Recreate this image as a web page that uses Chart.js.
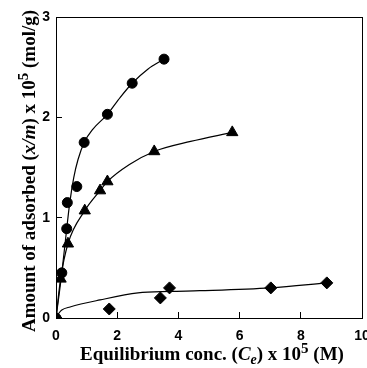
<!DOCTYPE html>
<html>
<head>
<meta charset="utf-8">
<script src="https://cdn.jsdelivr.net/npm/chart.js@4/dist/chart.umd.min.js"></script>
<style>
  html, body { margin: 0; padding: 0; background: #fff; }
  canvas { display: block; }
</style>
</head>
<body>
<canvas id="isotherm" width="367" height="368"></canvas>
<script>
// measured points (x = Ce x 10^5 M, y = x/m x 10^5 mol/g)
const circleX = [0, 0.19, 0.35, 0.37, 0.68, 0.92, 1.68, 2.49, 3.53];
const circleY = [0, 0.45, 0.89, 1.15, 1.31, 1.75, 2.03, 2.34, 2.58];
const triX = [0, 0.15, 0.39, 0.94, 1.44, 1.68, 3.21, 5.76];
const triY = [0, 0.39, 0.74, 1.07, 1.27, 1.36, 1.66, 1.85];
const diaX = [0, 1.74, 3.41, 3.71, 7.02, 8.85];
const diaY = [0, 0.09, 0.20, 0.30, 0.30, 0.35];

// fitted curves
const circleFitX = [0, 0.19, 0.35, 0.45, 0.58, 0.72, 0.92, 1.2, 1.68, 2.1, 2.49, 3.0, 3.53];
const circleFitY = [0, 0.45, 0.89, 1.15, 1.4, 1.58, 1.75, 1.88, 2.03, 2.2, 2.34, 2.48, 2.58];
const triFitX = [0, 0.15, 0.39, 0.94, 1.44, 1.68, 2.4, 3.21, 4.4, 5.76];
const triFitY = [0, 0.39, 0.74, 1.07, 1.27, 1.36, 1.53, 1.66, 1.76, 1.85];
const diaFitX = [0, 0.1, 0.19, 0.46, 1.44, 2.68, 3.73, 4.7, 7.02, 8.85];
const diaFitY = [0, 0.05, 0.08, 0.11, 0.18, 0.25, 0.265, 0.272, 0.30, 0.35];

const xTicks = [0, 2, 4, 6, 8, 10];
const yTicks = [0, 1, 2, 3];

const toPoints = (xs, ys) => xs.map((x, i) => ({ x: x, y: ys[i] }));

const fitLine = (xs, ys) => ({
    data: toPoints(xs, ys),
    showLine: true,
    borderColor: '#000',
    borderWidth: 1.2,
    pointRadius: 0,
    cubicInterpolationMode: 'monotone'
});

const markers = (xs, ys, style, r) => ({
    data: toPoints(xs, ys),
    showLine: false,
    pointStyle: style,
    pointRadius: r,
    pointHoverRadius: r,
    backgroundColor: '#000',
    borderColor: '#000',
    borderWidth: 1
});

const serif = '"Liberation Serif", "Times New Roman", serif';

function drawRuns(ctx, runs, cx, cy) {
    let total = 0;
    runs.forEach(r => {
        ctx.font = r.font;
        total += ctx.measureText(r.t).width;
    });
    let x = cx - total / 2;
    ctx.textBaseline = 'alphabetic';
    ctx.textAlign = 'left';
    runs.forEach(r => {
        ctx.font = r.font;
        ctx.fillText(r.t, x, cy + (r.dy || 0));
        x += ctx.measureText(r.t).width;
    });
}

// frame box + axis titles with italic / super / subscript parts
const framePlugin = {
    id: 'frame',
    beforeDatasetsDraw(chart) {
        const { ctx, chartArea: a } = chart;
        ctx.save();
        ctx.strokeStyle = '#000';
        ctx.lineWidth = 1;
        ctx.strokeRect(a.left + 0.5, a.top + 0.5, a.right - a.left, a.bottom - a.top);
        ctx.restore();
    },
    afterDraw(chart) {
        const { ctx } = chart;
        const big = 'bold 19px ' + serif;
        const bigIt = 'italic bold 19px ' + serif;
        const small = 'bold 15px ' + serif;
        const smallIt = 'italic bold 14px ' + serif;
        ctx.save();
        ctx.fillStyle = '#000';
        drawRuns(ctx, [
            { t: 'Equilibrium conc. (', font: big },
            { t: 'C', font: bigIt },
            { t: 'e', font: smallIt, dy: 4 },
            { t: ') x 10', font: big },
            { t: '5', font: small, dy: -7 },
            { t: ' (M)', font: big }
        ], 212, 360);

        ctx.translate(35, 171);
        ctx.rotate(-Math.PI / 2);
        drawRuns(ctx, [
            { t: 'Amount of adsorbed (', font: big },
            { t: 'x/m', font: bigIt },
            { t: ') x 10', font: big },
            { t: '5', font: small, dy: -7 },
            { t: ' (mol/g)', font: big }
        ], 0, 0);
        ctx.restore();
    }
};

const tickFont = { family: '"Liberation Sans", Arial, sans-serif', size: 14, weight: 'bold' };
const noPadding = () => ({ left: 0, top: 0, right: 0, bottom: 0 });

new Chart(document.getElementById('isotherm'), {
    type: 'scatter',
    data: {
        datasets: [
            fitLine(circleFitX, circleFitY),
            fitLine(triFitX, triFitY),
            fitLine(diaFitX, diaFitY),
            markers(circleX, circleY, 'circle', 5),
            markers(triX, triY, 'triangle', 6.5),
            markers(diaX, diaY, 'rectRot', 6)
        ]
    },
    options: {
        responsive: false,
        animation: false,
        events: [],
        layout: { autoPadding: false, padding: { top: 17, right: 5, left: 0, bottom: 0 } },
        plugins: {
            legend: { display: false },
            tooltip: { enabled: false }
        },
        scales: {
            x: {
                type: 'linear',
                min: xTicks[0],
                max: xTicks[xTicks.length - 1],
                afterBuildTicks: s => { s.ticks = xTicks.map(v => ({ value: v })); },
                // the "10" label is allowed to run off the right edge, like the original
                afterFit: s => { s.height = 50; s.getPadding = noPadding; },
                border: { display: false },
                grid: { drawOnChartArea: false, drawTicks: true, tickLength: -6, color: '#000' },
                ticks: { color: '#000', font: tickFont, padding: 16, maxRotation: 0 }
            },
            y: {
                type: 'linear',
                min: yTicks[0],
                max: yTicks[yTicks.length - 1],
                afterBuildTicks: s => { s.ticks = yTicks.map(v => ({ value: v })); },
                afterFit: s => { s.width = 56; s.getPadding = noPadding; },
                border: { display: false },
                grid: { drawOnChartArea: false, drawTicks: true, tickLength: -6, color: '#000' },
                ticks: { color: '#000', font: tickFont, padding: 12 }
            }
        }
    },
    plugins: [framePlugin]
});
</script>
</body>
</html>
